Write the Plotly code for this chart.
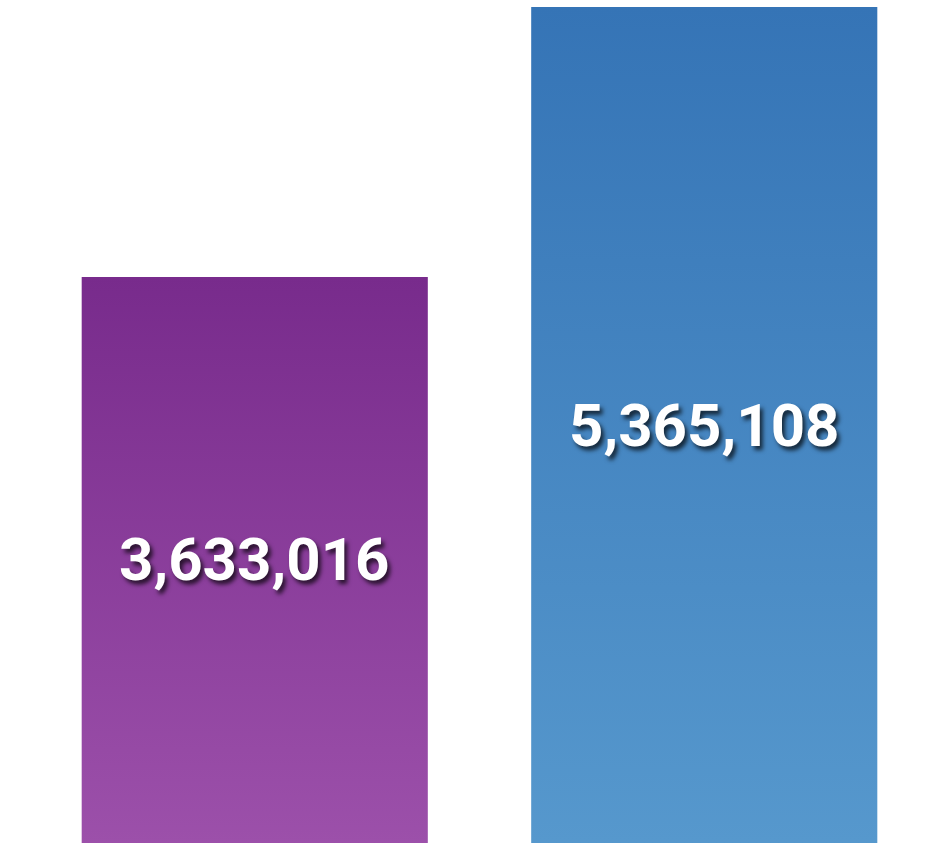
import plotly.graph_objects as go

categories = ["A", "B"]
values = [3633016, 5365108]
top_colors = ["#782B8C", "#3574B6"]
bottom_colors = ["#9C50AA", "#5698CD"]
bar_width = 0.77

fig = go.Figure()

# gradient-filled bars drawn from the data values
for i, (v, ct, cb) in enumerate(zip(values, top_colors, bottom_colors)):
    x0, x1 = i - bar_width / 2, i + bar_width / 2
    fig.add_trace(go.Scatter(
        x=[x0, x1, x1, x0, x0], y=[0, 0, v, v, 0],
        mode="lines", line=dict(width=0), fill="toself",
        fillgradient=dict(type="vertical", colorscale=[[0, cb], [1, ct]]),
        hoverinfo="skip", showlegend=False,
    ))
    fig.add_annotation(
        x=i, y=v / 2, text=f"{v:,}", showarrow=False,
        font=dict(family="Roboto, sans-serif",
                  size=60, color="white", weight="bold",
                  shadow="3px 4px 4px rgba(0,0,0,0.7)"),
    )

fig.update_layout(
    width=931, height=843,
    margin=dict(l=30, r=2, t=0, b=0),
    paper_bgcolor="white", plot_bgcolor="white",
    showlegend=False,
    xaxis=dict(range=[-0.5, 1.5], visible=False, tickvals=[0, 1], ticktext=categories),
    yaxis=dict(range=[0, max(values) * 843 / 836], visible=False),
)

fig.write_html("out.html")
